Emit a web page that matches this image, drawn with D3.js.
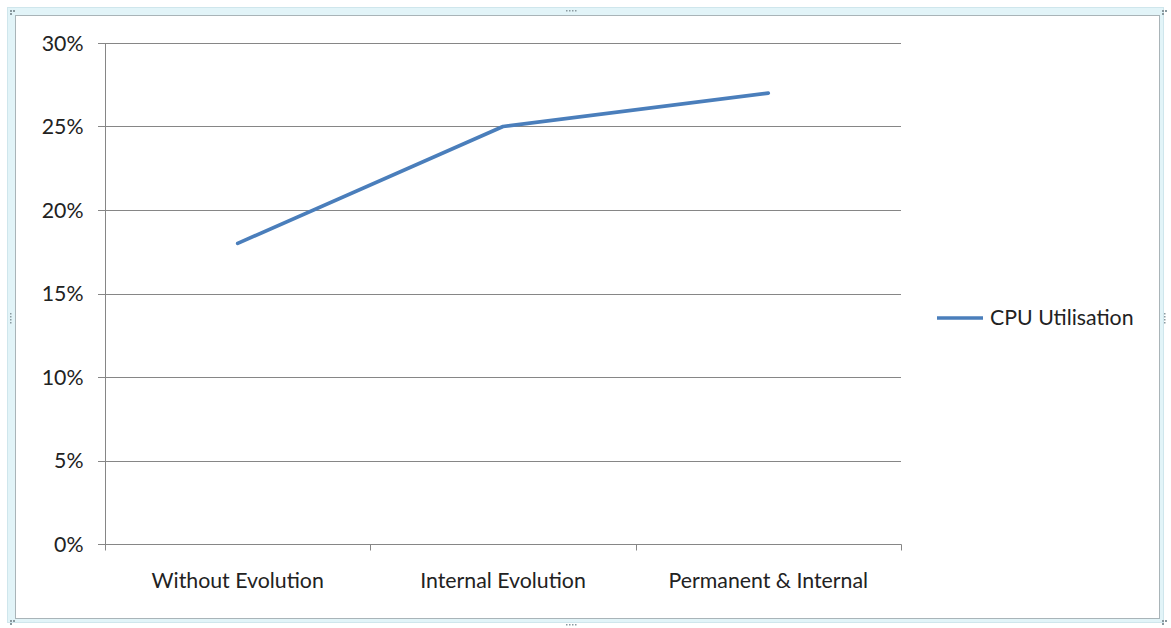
<!DOCTYPE html>
<html>
<head>
<meta charset="utf-8">
<script src="https://cdn.jsdelivr.net/npm/d3@7"></script>
<style>
  html, body { margin: 0; padding: 0; background: #fff; }
  svg { display: block; }
  text { font-family: Lato, "Open Sans", "Liberation Sans", sans-serif; fill: #222; }
</style>
</head>
<body>
<svg id="chart" width="1171" height="628"></svg>
<script>
// Chart data
const categories = ["Without Evolution", "Internal Evolution", "Permanent & Internal"];
const cpuValues = [0.18, 0.25, 0.27];
const seriesName = "CPU Utilisation";
const yTicks = [0, 0.05, 0.10, 0.15, 0.20, 0.25, 0.30];

const svg = d3.select("#chart");
const fontSize = "21.3px";

// Outer selection frame
svg.append("rect").attr("x", 7.5).attr("y", 7.5).attr("width", 1156).attr("height", 615)
  .attr("fill", "#e2f4f8").attr("stroke", "#cfe6ec");
svg.append("rect").attr("x", 15.5).attr("y", 15.5).attr("width", 1144).attr("height", 603)
  .attr("fill", "#fff").attr("stroke", "#a9b4b8");

// Resize handles (dotted grips)
const grips = [
  [566, 10, "h"], [566, 624, "h"], [10, 318, "v"], [1164, 318, "v"]
];
grips.forEach(([gx, gy, dir]) => {
  for (let i = 0; i < 4; i++) {
    svg.append("rect")
      .attr("x", dir === "h" ? gx + i * 3 : gx)
      .attr("y", dir === "h" ? gy : gy - 5 + i * 3)
      .attr("width", 1.5).attr("height", 1.5).attr("fill", "#8a9aa0");
  }
});
[[10, 10], [1162, 10], [10, 620], [1162, 620]].forEach(([cx, cy]) => {
  svg.append("rect").attr("x", cx).attr("y", cy).attr("width", 2).attr("height", 2).attr("fill", "#8a9aa0");
  svg.append("rect").attr("x", cx + 3).attr("y", cy).attr("width", 2).attr("height", 2).attr("fill", "#8a9aa0");
  svg.append("rect").attr("x", cx).attr("y", cy + 3).attr("width", 2).attr("height", 2).attr("fill", "#8a9aa0");
});

// Plot area
const plotLeft = 105, plotRight = 901, plotTop = 43, plotBottom = 544;

const x = d3.scaleBand().domain(categories).range([plotLeft, plotRight]).paddingInner(0).paddingOuter(0);
const y = d3.scaleLinear().domain([0, 0.30]).range([plotBottom, plotTop]);

const grid = "#868686";

// Horizontal gridlines
svg.append("g").selectAll("line").data(yTicks).join("line")
  .attr("x1", plotLeft - 7).attr("x2", plotRight)
  .attr("y1", d => Math.round(y(d)) + 0.5).attr("y2", d => Math.round(y(d)) + 0.5)
  .attr("stroke", grid).attr("stroke-width", 1);

// Y axis
const yAxis = d3.axisLeft(y).tickValues(yTicks).tickFormat(d3.format(".0%")).tickSize(0).tickPadding(22);
const gY = svg.append("g").attr("transform", `translate(${plotLeft + 0.5},0.5)`).call(yAxis);
gY.select(".domain").attr("stroke", grid).attr("d", `M0,${plotTop}V${plotBottom + 1}`);
gY.selectAll("text").style("font-size", fontSize).attr("fill", "#222")
  .style("font-family", "Lato, 'Open Sans', sans-serif");

// X axis with ticks at category boundaries
const gX = svg.append("g").attr("transform", `translate(0,${Math.round(plotBottom) + 0.5})`);
gX.append("line").attr("x1", plotLeft).attr("x2", plotRight + 0.5).attr("stroke", grid);
const bounds = categories.map(c => x(c)).concat([x(categories[categories.length - 1]) + x.bandwidth()]);
gX.selectAll("line.tick").data(bounds).join("line").attr("class", "tick")
  .attr("x1", d => Math.round(d) + 0.5).attr("x2", d => Math.round(d) + 0.5)
  .attr("y1", 0).attr("y2", 6).attr("stroke", grid);
gX.selectAll("text").data(categories).join("text")
  .attr("x", d => x(d) + x.bandwidth() / 2).attr("y", 43)
  .attr("text-anchor", "middle").style("font-size", fontSize).text(d => d);

// Series line
const line = d3.line().x((d, i) => x(categories[i]) + x.bandwidth() / 2).y(d => y(d));
svg.append("path").datum(cpuValues).attr("d", line)
  .attr("fill", "none").attr("stroke", "#4a7ebb").attr("stroke-width", 3.6)
  .attr("stroke-linecap", "round").attr("stroke-linejoin", "round");

// Legend
const lg = svg.append("g").attr("transform", "translate(937,318)");
lg.append("line").attr("x1", 0).attr("x2", 46).attr("y1", 0).attr("y2", 0)
  .attr("stroke", "#4a7ebb").attr("stroke-width", 3.6);
lg.append("text").attr("x", 53).attr("y", 7).style("font-size", fontSize).text(seriesName);
</script>
</body>
</html>
